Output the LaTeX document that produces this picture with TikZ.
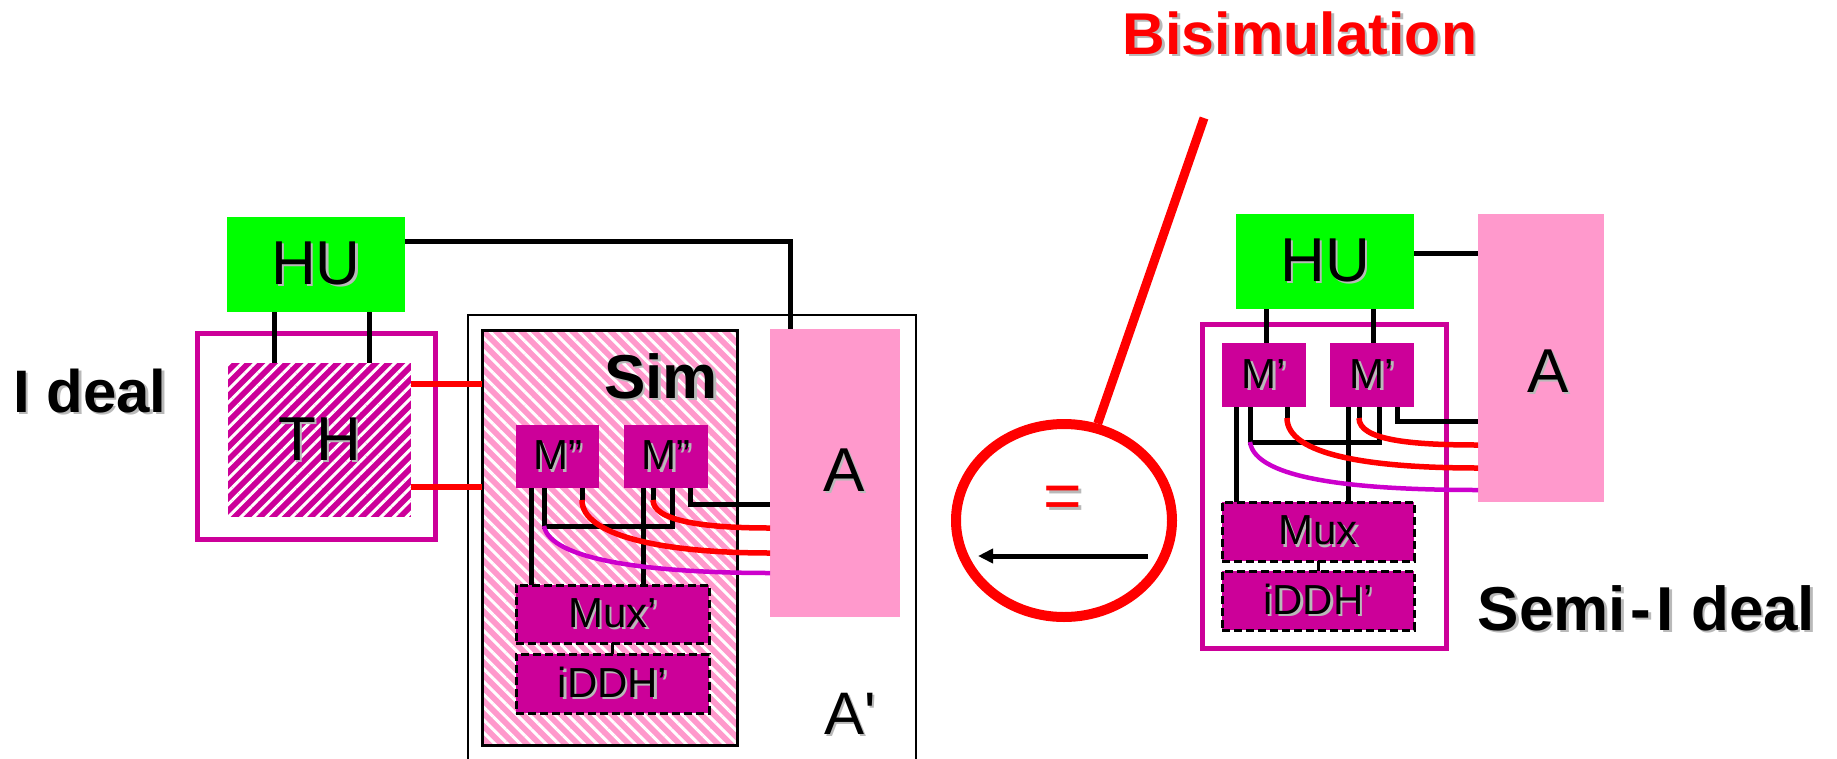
\documentclass[tikz,border=0pt]{standalone}
\usepackage{fontspec}
\setmainfont{Liberation Sans}
\usetikzlibrary{arrows.meta,patterns.meta,shapes.geometric}
\definecolor{hugreen}{RGB}{0,255,0}
\definecolor{mixmag}{RGB}{204,0,153}
\definecolor{advpink}{RGB}{255,153,204}
\definecolor{linkpurple}{RGB}{204,0,204}
\definecolor{shadegray}{RGB}{185,185,185}
\newcommand{\pxfont}[1]{\fontsize{#1}{#1}\selectfont}
\newcommand{\shd}[1]{\makebox[0pt][l]{\kern2.5pt\raisebox{-2.5pt}{\color{shadegray}#1}}#1}

\tikzset{
    box/.style={inner sep=0pt, outer sep=0pt},
    hubox/.style={box, fill=hugreen, minimum width=178pt, minimum height=95pt, font=\pxfont{62}},
    advbox/.style={box, fill=advpink, minimum height=288pt},
    advlbl/.style={font=\pxfont{62}},
    mbox/.style={box, fill=mixmag, minimum width=84pt, minimum height=63pt, font=\pxfont{42}},
    muxbox/.style={box, fill=mixmag, draw=black, line width=3pt, dash pattern=on 8pt off 4pt,
        minimum width=193pt, minimum height=58pt, font=\pxfont{42}},
    frame/.style={box, draw=mixmag, line width=5pt},
    wire/.style={draw=black, line width=5pt},
    redwire/.style={draw=red, line width=5.5pt},
    purplewire/.style={draw=linkpurple, line width=4.5pt}
}

\begin{document}
\begin{tikzpicture}[x=1pt,y=-1pt]
    \useasboundingbox (0,0) rectangle (1837,758);

    % ideal world
    \node[font=\bfseries\pxfont{60}] (ideallbl) at (90,392) {\shd{I deal}};
    \node[hubox] (hul) at (316,264.5) {\shd{HU}};
    \node[frame, minimum width=238pt, minimum height=206pt] (thframe) at (316,436) {};
    \node[box, minimum width=183pt, minimum height=154pt, preaction={fill=mixmag},
        pattern={Lines[angle=45,distance=9pt,line width=3pt]}, pattern color=white,
        font=\pxfont{62}] (th) at (319.5,440) {\shd{TH}};

    \node[box, draw=black, line width=2.5pt, minimum width=448pt, minimum height=485pt] (outa) at (692,557.5) {};
    \node[box, draw=black, line width=3pt, minimum width=255pt, minimum height=415pt,
        preaction={fill=advpink}, pattern={Lines[angle=-45,distance=9pt,line width=3pt]},
        pattern color=white] (sim) at (609.5,537.5) {};
    \node[font=\bfseries\pxfont{62}] (simlbl) at (661,377.5) {\shd{Sim}};
    \node[advbox, minimum width=130pt, label={[advlbl, shift={(9,-2)}]center:\shd{A}}] (advl) at (835,473) {};
    \node[font=\pxfont{60}] (aprimelbl) at (850,715) {\shd{A\textquotesingle}};

    \node[mbox, minimum width=83pt] (mla) at (557.5,456.5) {\shd{M”}};
    \node[mbox] (mlb) at (666,456.5) {\shd{M”}};
    \node[muxbox] (muxl) at (612.5,614) {\shd{Mux’}};
    \node[muxbox, minimum height=59pt] (iddhl) at (612.5,683.5) {\shd{iDDH’}};

    \draw[wire] ([shift={(-42,0)}]hul.south) -- ([shift={(-45.5,0)}]th.north);
    \draw[wire] ([shift={(53,0)}]hul.south) -- ([shift={(49.5,0)}]th.north);
    \draw[redwire] ([shift={(0,-56)}]th.east) -- ([shift={(0,-153.5)}]sim.west);
    \draw[redwire] ([shift={(0,47)}]th.east) -- ([shift={(0,-50.5)}]sim.west);
    \draw[wire] ([shift={(0,-23.5)}]hul.east) -| ([shift={(-45,0)}]advl.north);

    \draw[wire] ([shift={(-26.5,0)}]mla.south) -- ([shift={(-81.5,0)}]muxl.north);
    \draw[wire] ([shift={(-23,0)}]mlb.south) -- ([shift={(30.5,0)}]muxl.north);
    \coordinate (busl) at ([shift={(-13.5,38)}]mla.south);
    \draw[wire] ([shift={(-13.5,0)}]mla.south) -- (busl) -| ([shift={(6,0)}]mlb.south);
    \draw[wire] ([shift={(24.5,0)}]mla.south) -- ([shift={(24.5,12)}]mla.south);
    \draw[wire] ([shift={(-13,0)}]mlb.south) -- ([shift={(-13,12)}]mlb.south);
    \draw[wire] ([shift={(24,0)}]mlb.south) |- ([shift={(0,31)}]advl.west);
    \draw[redwire] ([shift={(24.5,12)}]mla.south) .. controls +(0,35) and +(-110,0) .. ([shift={(0,80)}]advl.west);
    \draw[redwire] ([shift={(-13,12)}]mlb.south) .. controls +(0,20) and +(-70,0) .. ([shift={(0,55)}]advl.west);
    \draw[purplewire] (busl) .. controls +(6,34) and +(-120,0) .. ([shift={(0,100)}]advl.west);
    \draw[line width=3pt] (muxl.south) -- (iddhl.north);

    % bisimulation
    \node[ellipse, draw=red, line width=10pt, minimum width=216pt, minimum height=193pt, inner sep=0pt] (bisim) at (1064,520.5) {};
    \coordinate (bisimtip) at (1204,118);
    \draw[red, line width=9pt] (bisim) -- (bisimtip);
    \node[text=red, font=\pxfont{66}] (eqsign) at (1063,504) {\shd{=}};
    \draw[-{Triangle[length=15pt,width=14pt]}, line width=5pt] ([shift={(84,35.5)}]bisim.center) -- ([shift={(-86,35.5)}]bisim.center);
    \node[text=red, font=\bfseries\pxfont{59}] (bisimlbl) at (1300,34.5) {\shd{Bisimulation}};

    % semi-ideal world
    \node[hubox] (hur) at (1325,261.5) {\shd{HU}};
    \node[advbox, minimum width=126pt, label={[advlbl, shift={(7,14)}]center:\shd{A}}] (advr) at (1541,358) {};
    \draw[wire] ([shift={(0,-8.5)}]hur.east) -- ([shift={(0,-105)}]advr.west);
    \node[frame, minimum width=244pt, minimum height=324pt] (semiframe) at (1324,486) {};
    \node[mbox, minimum height=64pt] (mra) at (1264,375) {\shd{M’}};
    \node[mbox, minimum height=64pt] (mrb) at (1372,375) {\shd{M’}};
    \node[muxbox, minimum width=192pt, minimum height=59pt] (muxr) at (1318,531.5) {\shd{Mux}};
    \node[muxbox, minimum width=192pt, minimum height=59pt] (iddhr) at (1318,600.5) {\shd{iDDH’}};
    \node[font=\bfseries\pxfont{62}] (semilbl) at (1646.5,609.5) {\shd{Semi\kern5pt-\kern5pt I deal}};

    \draw[wire] ([shift={(-59,0)}]hur.south) -- ([shift={(2,0)}]mra.north);
    \draw[wire] ([shift={(48,0)}]hur.south) -- ([shift={(1,0)}]mrb.north);
    \draw[wire] ([shift={(-28,0)}]mra.south) -- ([shift={(-82,0)}]muxr.north);
    \draw[wire] ([shift={(-24,0)}]mrb.south) -- ([shift={(30,0)}]muxr.north);
    \coordinate (busr) at ([shift={(-14,35)}]mra.south);
    \draw[wire] ([shift={(-14,0)}]mra.south) -- (busr) -| ([shift={(7,0)}]mrb.south);
    \draw[wire] ([shift={(23,0)}]mra.south) -- ([shift={(23,11)}]mra.south);
    \draw[wire] ([shift={(-13,0)}]mrb.south) -- ([shift={(-13,11)}]mrb.south);
    \draw[wire] ([shift={(25,0)}]mrb.south) |- ([shift={(0,63)}]advr.west);
    \draw[redwire] ([shift={(23,11)}]mra.south) .. controls +(0,37) and +(-108,0) .. ([shift={(0,110)}]advr.west);
    \draw[redwire] ([shift={(-13,11)}]mrb.south) .. controls +(0,22) and +(-68,0) .. ([shift={(0,87)}]advr.west);
    \draw[purplewire] (busr) .. controls +(5,38) and +(-118,0) .. ([shift={(0,132)}]advr.west);
    \draw[line width=3pt] (muxr.south) -- (iddhr.north);
\end{tikzpicture}
\end{document}
